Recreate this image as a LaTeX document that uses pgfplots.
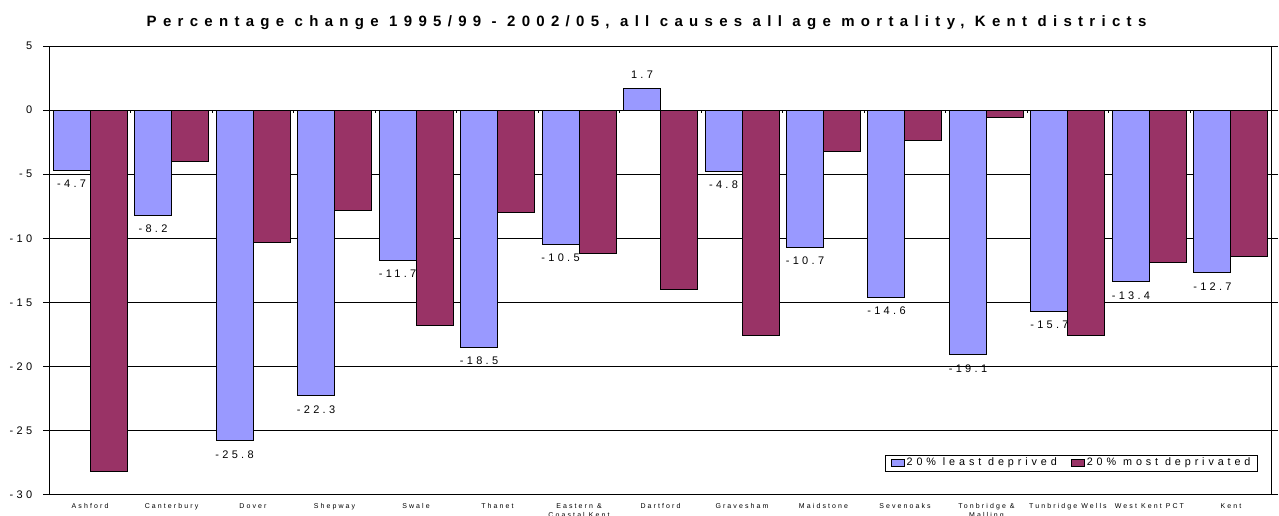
\documentclass[border=0pt]{standalone}
\usepackage{fontspec}
\setmainfont{Liberation Sans}
\newfontfamily\ttlfont[LetterSpace=42]{Liberation Sans}
\newfontfamily\lblfont[LetterSpace=30]{Liberation Sans}
\newfontfamily\legfont[LetterSpace=36]{Liberation Sans}
\usepackage{pgfplots}
\pgfplotsset{compat=1.18}
\definecolor{lblue}{HTML}{9999FF}
\definecolor{maroon}{HTML}{993366}
\begin{document}
\begin{tikzpicture}
\begin{axis}[
  at={(0,0)}, anchor=south west,
  scale only axis, width=611.2pt, height=224.35pt,
  xmin=-0.5, xmax=14.5,
  ymin=-30, ymax=5,
  ytick={-30,-25,-20,-15,-10,-5,0,5},
  xtick={0,...,14},
  xticklabels={Ashford,Canterbury,Dover,Shepway,Swale,Thanet,{Eastern \&\\Coastal Kent},Dartford,Gravesham,Maidstone,Sevenoaks,{Tonbridge \&\\Malling},Tunbridge Wells,West Kent PCT,Kent},
  x tick label style={font=\lblfont\fontsize{3.5}{4.2}\selectfont, align=center, anchor=north, yshift=2pt},
  y tick label style={font=\lblfont\fontsize{5.5}{6.5}\selectfont, xshift=-2pt},
  /pgf/number format/assume math mode=true,
  major x tick style={draw=none},
  tick align=outside,
  major tick length=3pt,
  ytick style={black, line width=0.5pt},
  axis line style={black, line width=0.5pt},
  ymajorgrids, grid style={black, line width=0.5pt},
  ybar=0pt, bar width=0.454,
  title={\ttlfont\bfseries Percentage change 1995/99 - 2002/05, all causes all age mortality, Kent districts},
  title style={at={(0.4886,1)}, anchor=center, yshift=5.5pt, font=\fontsize{7.5}{8.5}\selectfont},
  legend style={at={(0.9888,0.0513)}, anchor=south east, draw=black, line width=0.5pt,
    font=\legfont\fontsize{5.4}{6}\selectfont, inner xsep=2.5pt, inner ysep=0.2pt, legend columns=2,
    nodes={inner sep=1pt},
    /tikz/every even column/.append style={column sep=6pt}},
  legend image code/.code={\draw[#1, line width=0.5pt] (0pt,-1.75pt) rectangle (6.5pt,1.75pt);},
  every axis plot/.append style={draw=black, line width=0.5pt},
  clip=false,
]
\addplot[fill=lblue, nodes near coords,
  nodes near coords style={font=\lblfont\fontsize{5.5}{6.5}\selectfont, black, /pgf/number format/fixed, /pgf/number format/precision=1, /pgf/number format/fixed zerofill, inner sep=4.5pt}]
  coordinates {(0,-4.7) (1,-8.2) (2,-25.8) (3,-22.3) (4,-11.7) (5,-18.5) (6,-10.5) (7,1.7) (8,-4.8) (9,-10.7) (10,-14.6) (11,-19.1) (12,-15.7) (13,-13.4) (14,-12.7)};
\addlegendentry{20\% least deprived}
\addplot[fill=maroon]
  coordinates {(0,-28.2) (1,-4.0) (2,-10.3) (3,-7.8) (4,-16.8) (5,-8.0) (6,-11.2) (7,-14.0) (8,-17.6) (9,-3.2) (10,-2.4) (11,-0.6) (12,-17.6) (13,-11.9) (14,-11.4)};
\addlegendentry{20\% most deprivated}
\pgfplotsinvokeforeach{0.5,1.5,2.5,3.5,4.5,5.5,6.5,7.5,8.5,9.5,10.5,11.5,12.5,13.5}{
  \draw[black, line width=0.4pt] (axis cs:#1,0) -- ([yshift=-1.5pt]axis cs:#1,0);
}
\end{axis}
\pgfresetboundingbox
\useasboundingbox (-24.65pt,-10.15pt) rectangle (614.85pt,247.35pt);
\end{tikzpicture}
\end{document}
